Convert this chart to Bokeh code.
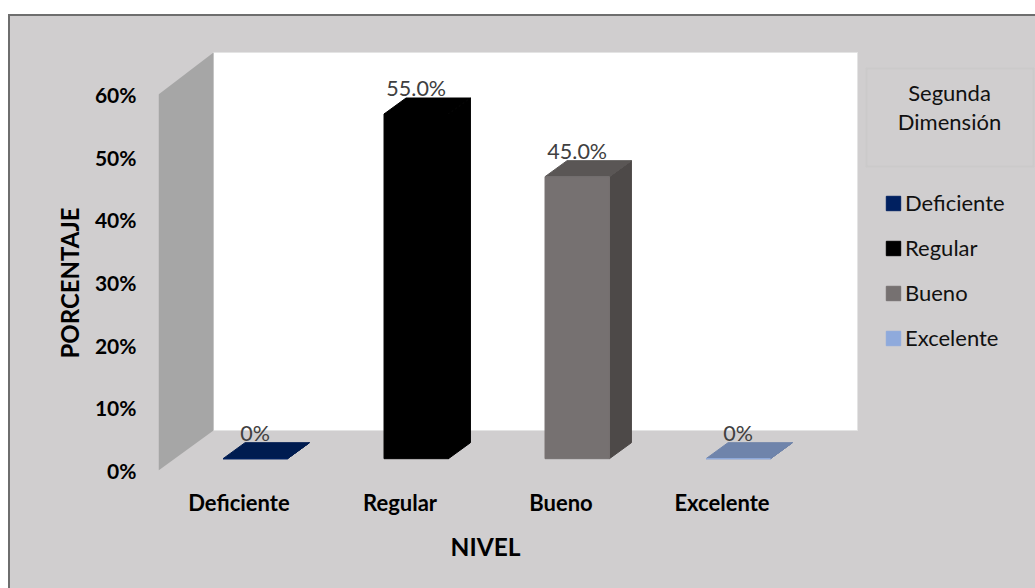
from bokeh.embed import file_html
from bokeh.resources import INLINE
from bokeh.plotting import figure
from bokeh.models import (BoxAnnotation, ColumnDataSource, FixedTicker, Label,
                          Legend, LegendItem, PrintfTickFormatter, Title)
from bokeh.core.properties import value

# Chart values
categories = ["Deficiente", "Regular", "Bueno", "Excelente"]
percentages = [0, 55, 45, 0]
value_labels = ["0%", "55.0%", "45.0%", "0%"]
y_ticks = [0, 10, 20, 30, 40, 50, 60]

# Face colours per category
front_colors = ["#002060", "#000000", "#767171", "#8faadc"]
top_colors = ["#001c50", "#000000", "#5a5655", "#6f84ab"]
side_colors = ["#001a4a", "#000000", "#4d4948", "#64779c"]

PANEL = "#d0cecf"
FONT = "Lato"

# Oblique projection: one full step into the box, in axis units
SLOT_PX = 161
PCT_PX = 6.267
DEPTH_X = 55 / SLOT_PX
DEPTH_Y = 40 / PCT_PX
BAR_NEAR = 0.295   # fraction of the depth where a bar starts
BAR_DEPTH = 0.40   # fraction of the depth that a bar occupies
BAR_WIDTH = 0.40   # fraction of a category slot

# The plot frame runs to the right and top edges so the legend can live inside it
FRAME_LEFT, FRAME_BOTTOM = 158, 470
X_END = (1035 - FRAME_LEFT) / SLOT_PX
Y_END = (FRAME_BOTTOM - 16) / PCT_PX
WALL_RIGHT = (857 - FRAME_LEFT) / SLOT_PX
WALL_TOP = (FRAME_BOTTOM - 52) / PCT_PX


def px_x(sx):
    return sx - FRAME_LEFT


def px_y(sy):
    return FRAME_BOTTOM - sy


p = figure(width=1025, height=572, output_backend="svg", toolbar_location=None,
           margin=(16, 0, 0, 10),
           styles={"outline": "2px solid #6e6e6e", "background-color": PANEL},
           x_range=(0, X_END), y_range=(0, Y_END),
           min_border_left=148, min_border_right=0,
           min_border_top=0, min_border_bottom=118,
           border_fill_color=None, background_fill_color=None,
           outline_line_color=None)
p.grid.visible = False

# Back wall and side wall of the box
p.patch([DEPTH_X, WALL_RIGHT, WALL_RIGHT, DEPTH_X], [DEPTH_Y, DEPTH_Y, WALL_TOP, WALL_TOP],
        fill_color="white", line_color="#e4e4e4", line_width=1)
p.patch([0, DEPTH_X, DEPTH_X, 0], [0, DEPTH_Y, WALL_TOP, 60],
        fill_color="#a6a6a6", line_color=None)

# Bars: front face, top face and right face
legend_items = []
for i, name in enumerate(categories):
    v = percentages[i]
    x0 = i + 0.5 - BAR_WIDTH / 2 + BAR_NEAR * DEPTH_X
    x1 = x0 + BAR_WIDTH
    y0 = BAR_NEAR * DEPTH_Y
    y1 = y0 + v
    dx = BAR_DEPTH * DEPTH_X
    dy = BAR_DEPTH * DEPTH_Y
    p.patch([x1, x1 + dx, x1 + dx, x1], [y0, y0 + dy, y1 + dy, y1],
            fill_color=side_colors[i], line_color=side_colors[i], line_width=1)
    p.patch([x0, x1, x1 + dx, x0 + dx], [y1, y1, y1 + dy, y1 + dy],
            fill_color=top_colors[i], line_color=top_colors[i], line_width=1)
    front = p.quad(left=[x0], right=[x1], bottom=[y0], top=[y1],
                   fill_color=front_colors[i], line_color=front_colors[i], line_width=1)
    legend_items.append(LegendItem(label=name, renderers=[front]))

# Value labels above each bar
label_source = ColumnDataSource(dict(
    x=[i + 0.5 + BAR_NEAR * DEPTH_X for i in range(len(categories))],
    y=[BAR_NEAR * DEPTH_Y + v + BAR_DEPTH * DEPTH_Y for v in percentages],
    text=value_labels,
))
p.text("x", "y", text="text", source=label_source, text_font=value(FONT),
       text_font_size="21.5px", text_color="#404040", text_align="center",
       text_baseline="middle", y_offset=-10)

# Axes
p.yaxis.ticker = FixedTicker(ticks=y_ticks)
p.yaxis.formatter = PrintfTickFormatter(format="%d%%")
p.xaxis.ticker = FixedTicker(ticks=[i + 0.5 for i in range(len(categories))])
p.xaxis.major_label_overrides = {i + 0.5: c for i, c in enumerate(categories)}
for ax in (p.xaxis, p.yaxis):
    ax.axis_line_color = None
    ax.major_tick_line_color = None
    ax.minor_tick_line_color = None
    ax.major_label_text_font = FONT
    ax.major_label_text_font_style = "bold"
    ax.major_label_text_color = "#000000"
p.xaxis.major_label_text_font_size = "22px"
p.yaxis.major_label_text_font_size = "21px"
p.yaxis.major_label_standoff = 16
p.xaxis.major_label_standoff = 12

# Axis titles, offset along their sides to sit over the front plane of the box
p.add_layout(Title(text="PORCENTAJE", align="left", offset=112, standoff=15, text_font=FONT,
                   text_font_style="bold", text_font_size="24px",
                   text_color="#000000"), "left")
p.add_layout(Title(text="NIVEL", align="left", offset=292, standoff=22, text_font=FONT,
                   text_font_style="bold", text_font_size="24.5px",
                   text_color="#000000"), "below")

# Legend title box
p.add_layout(BoxAnnotation(left=px_x(866), right=px_x(1033),
                           top=px_y(68), bottom=px_y(166),
                           left_units="screen", right_units="screen",
                           top_units="screen", bottom_units="screen",
                           fill_alpha=0, line_color="#bfbfbf", line_width=2))
for line, sy in (("Segunda", 93), ("Dimensión", 122)):
    p.add_layout(Label(x=px_x(949), y=px_y(sy), x_units="screen", y_units="screen",
                       text=line, text_font=FONT, text_font_size="22px",
                       text_color="#111111", text_align="center",
                       text_baseline="middle", y_offset=1))

legend = Legend(items=legend_items, location=(px_x(892) - 8, px_y(351)),
                background_fill_alpha=0, border_line_color=None,
                glyph_width=18, glyph_height=18, label_height=14,
                spacing=18, padding=8, margin=0, label_standoff=3,
                label_text_font=FONT, label_text_font_size="22px",
                label_text_color="#111111")
p.add_layout(legend)

open("out.html", "w").write(file_html(p, INLINE))
